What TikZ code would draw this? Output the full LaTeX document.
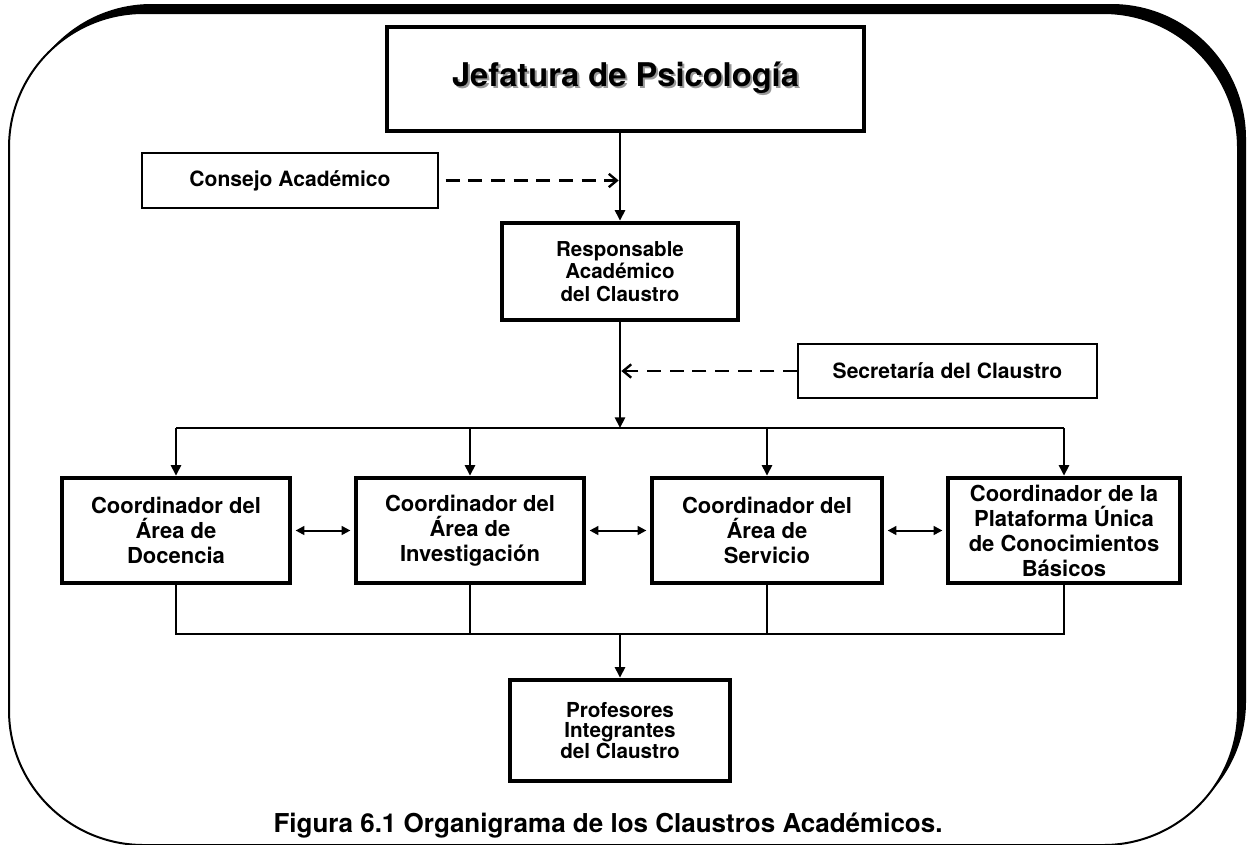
\documentclass[tikz,border=0pt]{standalone}
\usepackage{fontspec}
\setmainfont{TeX Gyre Heros}
\usetikzlibrary{arrows.meta}
\newcommand{\shadowed}[1]{\makebox[0pt][l]{\hspace{1.6pt}\raisebox{-1.6pt}{\textcolor{black!40}{#1}}}#1}
\begin{document}
\begin{tikzpicture}[x=0.75pt,y=-0.75pt,
  thickbox/.style={draw,line width=3.4pt,inner sep=0pt,align=center},
  thinbox/.style={draw,line width=1.6pt,inner sep=0pt,align=center},
  coordbox/.style={thickbox,minimum height=78.75pt},
  conn/.style={line width=2.1pt},
  arr/.style={conn,-{Triangle[length=8pt,width=7.5pt]}},
  darr/.style={line width=1.8pt,dash pattern=on 10.5pt off 6.5pt,-{Straight Barb[length=6pt,width=10pt,line width=1.8pt]}},
  biarr/.style={line width=1.5pt,{Triangle[length=6.5pt,width=6.5pt]}-{Triangle[length=6.5pt,width=6.5pt]}},
  ftitle/.style={font={\fontsize{24.5}{29}\selectfont\bfseries}},
  fside/.style={font={\fontsize{15.8}{19}\selectfont\bfseries}},
  fcoord/.style={font={\fontsize{16.5}{18.75}\selectfont\bfseries}},
  fresp/.style={font={\fontsize{15.4}{17}\selectfont\bfseries}},
  fprof/.style={font={\fontsize{15.5}{15.6}\selectfont\bfseries}},
  fcap/.style={font={\fontsize{19.5}{23}\selectfont\bfseries}},
]
\useasboundingbox (0,0) rectangle (1248,844);
\clip (0,0) rectangle (1248,844);
% frame with shadow
\fill[black, rounded corners=101pt] (17,4) rectangle (1246,836);
\filldraw[fill=white, draw=black, line width=1.5pt, rounded corners=101pt] (9,13) rectangle (1238,845);

% title
\node[thickbox, ftitle, minimum width=357.75pt, minimum height=78pt] (jef) at (625.5,79) {\shadowed{Jefatura de Psicología}};

\node[thinbox, fside, minimum width=222pt, minimum height=41.25pt] (cons) at (290,180.5) {Consejo Académico};
\node[thickbox, fresp, minimum width=177pt, minimum height=72.75pt] (resp) at (620,271.5) {Responsable\\Académico\\del Claustro};
\node[thinbox, fside, minimum width=224.25pt, minimum height=40.5pt] (sec) at (947.5,371) {Secretaría del Claustro};

\node[coordbox, fcoord, minimum width=171pt] (d1) at (176,530.5) {Coordinador del\\Área de\\Docencia};
\node[coordbox, fcoord, minimum width=171pt] (d2) at (470,530.5) {Coordinador del\\Área de\\Investigación};
\node[coordbox, fcoord, minimum width=172.5pt] (d3) at (767,530.5) {Coordinador del\\Área de\\Servicio};
\node[coordbox, fcoord, minimum width=174pt] (d4) at (1064,530.5) {Coordinador de la\\Plataforma Única\\de Conocimientos\\Básicos};

\node[thickbox, fprof, minimum width=165pt, minimum height=75.75pt] (prof) at (620,730.5) {Profesores\\Integrantes\\del Claustro};

\node[fcap, anchor=base] (cap) at (608,832) {Figura 6.1 Organigrama de los Claustros Académicos.};

% connectors
\draw[arr] (resp.north |- jef.south) -- (resp.north);
\draw[darr, shorten <=5pt, shorten >=1pt] (cons.east) -- (cons.east -| resp.north);
\coordinate (bus1) at (620,428);
\coordinate (bus2) at (620,634);
\draw[arr] (resp.south) -- (resp.south |- bus1);
\draw[darr, shorten >=1pt] (sec.west) -- (sec.west -| resp.south);
\draw[conn] (d1.north |- bus1) -- (d4.north |- bus1);
\draw[arr] (d1.north |- bus1) -- (d1.north);
\draw[arr] (d2.north |- bus1) -- (d2.north);
\draw[arr] (d3.north |- bus1) -- (d3.north);
\draw[arr] (d4.north |- bus1) -- (d4.north);

\draw[biarr, shorten <=2.5pt, shorten >=2.5pt] (d1.east) -- (d2.west);
\draw[biarr, shorten <=2.5pt, shorten >=2.5pt] (d2.east) -- (d3.west);
\draw[biarr, shorten <=2.5pt, shorten >=2.5pt] (d3.east) -- (d4.west);

\draw[conn] (d1.south) -- (d1.south |- bus2) -- (d4.south |- bus2) -- (d4.south);
\draw[conn] (d2.south) -- (d2.south |- bus2);
\draw[conn] (d3.south) -- (d3.south |- bus2);
\draw[arr] (prof.north |- bus2) -- (prof.north);
\end{tikzpicture}
\end{document}
